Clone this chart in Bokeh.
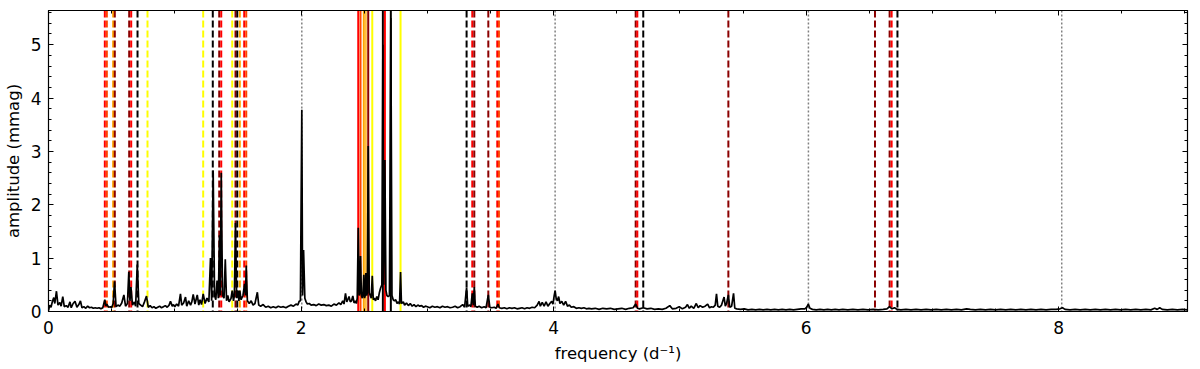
from bokeh.plotting import figure
from bokeh.models import Span, LinearAxis, FixedTicker, Range1d, CustomJSTickFormatter
from bokeh.embed import file_html
from bokeh.resources import INLINE

# ---- periodogram (frequency d^-1, amplitude mmag) ----
spec_a = [(0.00,0.02),(0.01,0.12),(0.02,0.08),(0.03,0.18),(0.042,0.26),(0.05,0.15),(0.063,0.38),(0.075,0.12),
          (0.09,0.17),(0.10,0.10),(0.113,0.28),(0.125,0.09),(0.14,0.11),(0.155,0.08),(0.17,0.18),(0.18,0.07),
          (0.195,0.15),(0.21,0.19),(0.225,0.08),(0.24,0.13),(0.253,0.20),(0.265,0.07),(0.28,0.09),(0.295,0.06),
          (0.31,0.10),(0.325,0.07),(0.34,0.08),(0.355,0.06),(0.37,0.07),(0.385,0.06),(0.40,0.07),(0.415,0.05),
          (0.43,0.07),(0.446,0.22),(0.455,0.10),(0.462,0.14),(0.475,0.08),(0.49,0.09),(0.50,0.07),(0.512,0.15),
          (0.523,0.56),(0.535,0.09),(0.55,0.12),(0.565,0.10),(0.58,0.16),(0.597,0.31),(0.61,0.10),(0.625,0.15),
          (0.636,0.74),(0.645,0.20),(0.653,0.46),(0.665,0.12),(0.68,0.18),(0.69,0.10),(0.703,0.88),(0.715,0.15),
          (0.73,0.12),(0.745,0.09),(0.76,0.18),(0.776,0.29),(0.79,0.08),(0.805,0.11),(0.82,0.07),(0.835,0.09),
          (0.85,0.06),(0.865,0.08),(0.88,0.10),(0.895,0.07),(0.91,0.09),(0.925,0.11),(0.94,0.08),(0.955,0.12),
          (0.966,0.19),(0.98,0.10),(0.99,0.13)]
spec_b = [(1.00,0.09),(1.015,0.14),(1.03,0.10),(1.045,0.33),(1.055,0.12),(1.07,0.16),(1.085,0.27),(1.095,0.10),
          (1.11,0.20),(1.125,0.12),(1.135,0.18),(1.146,0.32),(1.16,0.14),(1.178,0.31),(1.19,0.12),(1.20,0.22),
          (1.212,0.13),(1.225,0.33),(1.24,0.15),(1.255,0.25),(1.27,0.18),(1.283,1.00),(1.292,0.20),(1.304,2.64),
          (1.315,0.30),(1.325,0.22),(1.335,0.58),(1.345,0.25),(1.354,1.43),(1.36,0.30),(1.368,2.60),(1.378,0.30),
          (1.39,0.25),(1.40,0.98),(1.41,0.20),(1.42,0.30),(1.43,0.18),(1.445,0.24),(1.455,0.39),(1.465,0.20),
          (1.472,0.30),(1.481,1.66),(1.49,0.25),(1.50,0.39),(1.508,0.20),(1.515,0.39),(1.525,0.22),(1.54,0.30),
          (1.553,0.52),(1.56,0.30),(1.566,0.86),(1.575,0.20),(1.59,0.15),(1.605,0.20),(1.62,0.12),(1.635,0.15),
          (1.654,0.36),(1.665,0.12),(1.68,0.10),(1.70,0.13),(1.72,0.08),(1.74,0.10),(1.76,0.07),(1.78,0.09),
          (1.80,0.07),(1.82,0.10),(1.84,0.08),(1.86,0.09),(1.88,0.07),(1.90,0.10),(1.92,0.12),(1.94,0.10),
          (1.96,0.14),(1.975,0.12),(1.985,0.19),(1.995,0.20),(2.006,3.78),(2.012,0.30),(2.02,1.15),(2.03,0.25),
          (2.04,0.18),(2.05,0.14),(2.065,0.15),(2.08,0.12),(2.10,0.13),(2.12,0.11),(2.14,0.14),(2.16,0.12),
          (2.18,0.13),(2.20,0.11)]
spec_c = [(2.22,0.12),(2.24,0.10),(2.26,0.14),(2.28,0.12),(2.30,0.16),(2.315,0.13),(2.33,0.20),(2.34,0.14),
          (2.352,0.34),(2.362,0.18),(2.37,0.22),(2.38,0.28),(2.39,0.18),(2.40,0.20),(2.41,0.29),(2.42,0.16),
          (2.43,0.20),(2.438,0.15),(2.445,0.25),(2.453,1.57),(2.46,0.30),(2.465,0.35),(2.471,1.04),(2.478,0.30),
          (2.485,0.25),(2.49,0.30),(2.497,0.69),(2.503,0.25),(2.508,0.30),(2.513,0.72),(2.52,0.30),(2.525,0.35),
          (2.532,3.10),(2.54,0.35),(2.548,0.30),(2.556,0.25),(2.564,0.67),(2.572,0.22),(2.58,0.25),(2.59,0.20),
          (2.60,0.28),(2.61,0.22),(2.62,0.35),(2.63,0.44),(2.64,0.50),(2.648,5.00),(2.655,0.50),(2.664,2.84),
          (2.672,0.40),(2.68,0.30),(2.69,0.28),(2.70,0.30),(2.711,5.50),(2.72,0.30),(2.73,0.22),(2.74,0.20),
          (2.75,0.22),(2.76,0.15),(2.77,0.18),(2.78,0.14),(2.788,0.74),(2.795,0.15),(2.81,0.18),(2.82,0.12),
          (2.835,0.16),(2.85,0.11),(2.865,0.15),(2.88,0.10),(2.895,0.13),(2.91,0.09),(2.925,0.12),(2.94,0.10),
          (2.955,0.11),(2.97,0.08),(2.985,0.10)]
spec_d = [(3.00,0.09),(3.02,0.07),(3.04,0.10),(3.06,0.08),(3.08,0.09),(3.10,0.07),(3.12,0.10),(3.14,0.08),
          (3.16,0.09),(3.18,0.07),(3.20,0.08),(3.22,0.10),(3.24,0.07),(3.26,0.09),(3.28,0.13),(3.295,0.08),
          (3.311,0.45),(3.32,0.10),(3.335,0.12),(3.345,0.09),(3.356,0.34),(3.364,0.12),(3.372,0.46),(3.38,0.10),
          (3.395,0.08),(3.41,0.10),(3.43,0.07),(3.45,0.09),(3.465,0.07),(3.483,0.31),(3.495,0.08),(3.51,0.07),
          (3.53,0.08),(3.545,0.06),(3.56,0.14),(3.57,0.07),(3.59,0.06),(3.61,0.07),(3.63,0.05),(3.65,0.07),
          (3.67,0.06),(3.69,0.07),(3.71,0.05),(3.73,0.06),(3.75,0.07),(3.77,0.05),(3.79,0.07),(3.81,0.06),
          (3.83,0.08),(3.85,0.07),(3.87,0.12),(3.885,0.19),(3.895,0.10),(3.91,0.17),(3.925,0.10),(3.94,0.18),
          (3.955,0.10),(3.97,0.15),(3.985,0.19),(3.995,0.14),(4.005,0.30),(4.012,0.39),(4.02,0.25),(4.03,0.20),
          (4.04,0.28),(4.05,0.15),(4.065,0.19),(4.08,0.12),(4.095,0.19),(4.11,0.10),(4.125,0.12),(4.14,0.08),
          (4.16,0.09),(4.18,0.06),(4.20,0.07),(4.22,0.06),(4.24,0.07),(4.26,0.05),(4.28,0.06),(4.30,0.05)]
spec_e = [(4.33,0.06),(4.36,0.04),(4.39,0.06),(4.42,0.05),(4.45,0.06),(4.48,0.04),(4.51,0.05),(4.54,0.06),
          (4.57,0.04),(4.60,0.06),(4.63,0.07),(4.65,0.14),(4.665,0.06),(4.68,0.05),(4.71,0.07),(4.74,0.05),
          (4.77,0.06),(4.80,0.04),(4.83,0.05),(4.86,0.04),(4.89,0.06),(4.92,0.11),(4.94,0.05),(4.97,0.06),
          (4.995,0.09),(5.02,0.05),(5.045,0.08),(5.06,0.13),(5.075,0.06),(5.09,0.10),(5.11,0.06),(5.13,0.15),
          (5.145,0.07),(5.16,0.11),(5.18,0.08),(5.20,0.10),(5.22,0.14),(5.235,0.07),(5.25,0.09),(5.265,0.08),
          (5.28,0.12),(5.29,0.33),(5.30,0.10),(5.315,0.08),(5.33,0.12),(5.35,0.27),(5.36,0.10),(5.37,0.15),
          (5.384,0.31),(5.395,0.08),(5.41,0.10),(5.425,0.34),(5.435,0.06),(5.45,0.05),(5.48,0.04),(5.51,0.05),
          (5.54,0.03),(5.57,0.04),(5.60,0.03),(5.63,0.04),(5.66,0.03),(5.69,0.04),(5.72,0.03),(5.75,0.04),
          (5.78,0.03),(5.81,0.04),(5.84,0.03),(5.87,0.04),(5.90,0.03),(5.93,0.04),(5.96,0.05),(5.99,0.05),
          (6.005,0.08),(6.017,0.14),(6.03,0.06),(6.05,0.04),(6.08,0.03),(6.11,0.04),(6.14,0.03),(6.17,0.04),
          (6.20,0.03),(6.23,0.04),(6.26,0.03),(6.29,0.04)]
spec_f = [(6.33,0.03),(6.37,0.04),(6.41,0.03),(6.45,0.04),(6.49,0.03),(6.53,0.04),(6.57,0.03),(6.61,0.04),
          (6.64,0.05),(6.66,0.09),(6.68,0.05),(6.70,0.07),(6.72,0.04),(6.75,0.03),(6.79,0.04),(6.83,0.03),
          (6.87,0.04),(6.91,0.03),(6.95,0.04),(6.99,0.03),(7.03,0.04),(7.07,0.03),(7.11,0.04),(7.15,0.03),
          (7.19,0.04),(7.23,0.03),(7.27,0.05),(7.30,0.04),(7.34,0.03),(7.38,0.04),(7.42,0.03),(7.46,0.04),
          (7.50,0.03),(7.54,0.04),(7.58,0.03),(7.62,0.04),(7.66,0.03),(7.70,0.04),(7.74,0.03),(7.78,0.04),
          (7.82,0.03),(7.86,0.04),(7.90,0.03),(7.94,0.04),(7.98,0.04),(8.01,0.05),(8.03,0.07),(8.05,0.04),
          (8.09,0.03),(8.13,0.04),(8.17,0.03),(8.21,0.04),(8.25,0.03),(8.29,0.04),(8.33,0.03),(8.37,0.04),
          (8.41,0.03),(8.45,0.04),(8.49,0.03),(8.53,0.04),(8.57,0.03),(8.61,0.04),(8.65,0.03),(8.69,0.04),
          (8.73,0.03),(8.76,0.06),(8.78,0.04),(8.80,0.07),(8.82,0.04),(8.86,0.03),(8.90,0.04),(8.94,0.03),
          (8.98,0.04),(9.02,0.03)]

# ---- marked frequencies ----
dashed_freqs  = [0.446, 0.462, 0.512, 0.525, 0.639, 0.655, 0.705, 0.784,
                 1.225, 1.301, 1.352, 1.368, 1.455, 1.481, 1.495, 1.515, 1.550, 1.566,
                 3.311, 3.356, 3.372, 3.483, 3.554, 3.567,
                 4.650, 4.663, 4.710, 5.384, 6.545, 6.661, 6.677, 6.723]
dashed_colors = ["red", "orangered", "orange", "darkred", "darkred", "red", "black", "yellow",
                 "yellow", "black", "darkred", "red", "yellow", "darkred", "black", "orange", "red", "orangered",
                 "black", "red", "darkred", "darkred", "red", "orangered",
                 "darkred", "red", "black", "darkred", "darkred", "darkred", "red", "black"]
solid_freqs  = [2.453, 2.471, 2.497, 2.513, 2.532, 2.564, 2.648, 2.664, 2.711, 2.788]
solid_colors = ["red", "orangered", "orange", "#ffbf40", "darkred", "yellow", "black", "red", "black", "yellow"]
harmonic_freqs = [2.006, 4.012, 6.018, 8.024]

x_ticks = [0, 2, 4, 6, 8]
y_ticks = [0, 1, 2, 3, 4, 5]

freq, amp = [], []
for seg in (spec_a, spec_b, spec_c, spec_d, spec_e, spec_f):
    for f_, a_ in seg:
        freq.append(f_)
        amp.append(a_)

FONT = "DejaVu Sans"
p = figure(width=1192, height=365, output_backend="svg", toolbar_location=None,
           x_range=Range1d(0, 9.02), y_range=Range1d(0, 5.64),
           min_border_left=48, min_border_right=5, min_border_top=10, min_border_bottom=10,
           x_axis_label="frequency (d\u207b\u00b9)", y_axis_label="amplitude (mmag)")
p.grid.visible = False
p.outline_line_color = "black"
p.outline_line_width = 1.2
p.background_fill_color = "white"
p.border_fill_color = "white"

for f_ in harmonic_freqs:
    p.add_layout(Span(location=f_, dimension="height", line_color="gray", line_width=1.5,
                      line_dash="2 2", level="underlay"))
for f_, c_ in zip(dashed_freqs, dashed_colors):
    p.add_layout(Span(location=f_, dimension="height", line_color=c_, line_width=2,
                      line_dash="7 3", level="underlay"))
for f_, c_ in zip(solid_freqs, solid_colors):
    p.add_layout(Span(location=f_, dimension="height", line_color=c_, line_width=2,
                      level="underlay"))

p.line(freq, amp, line_color="black", line_width=1.7)

def style_axis(ax, labels=True):
    ax.axis_line_color = "black"
    ax.major_tick_in = 5
    ax.major_tick_out = 0
    ax.minor_tick_in = 3
    ax.minor_tick_out = 0
    ax.major_tick_line_color = "black"
    ax.minor_tick_line_color = "black"
    ax.major_label_text_font = FONT
    ax.major_label_text_color = "black"
    ax.major_label_text_font_size = "17px"
    ax.axis_label_text_font = FONT
    ax.axis_label_text_font_style = "normal"
    ax.axis_label_text_font_size = "16.5px"
    ax.axis_label_text_color = "black"
    if not labels:
        ax.formatter = CustomJSTickFormatter(code="return ''")
        ax.major_label_standoff = 0

xt = FixedTicker(ticks=x_ticks, minor_ticks=[i * 0.5 for i in range(19)])
yt = FixedTicker(ticks=y_ticks, minor_ticks=[i * 0.2 for i in range(29)])

p.xaxis[0].ticker = xt
p.yaxis[0].ticker = yt
style_axis(p.xaxis[0])
style_axis(p.yaxis[0])
p.xaxis[0].major_label_standoff = 9
p.xaxis[0].axis_label_standoff = 7
p.yaxis[0].major_label_standoff = 7
p.yaxis[0].axis_label_standoff = 5

top = LinearAxis(ticker=xt)
right = LinearAxis(ticker=yt)
style_axis(top, labels=False)
style_axis(right, labels=False)
p.add_layout(top, "above")
p.add_layout(right, "right")

open("out.html", "w").write(file_html(p, INLINE))
